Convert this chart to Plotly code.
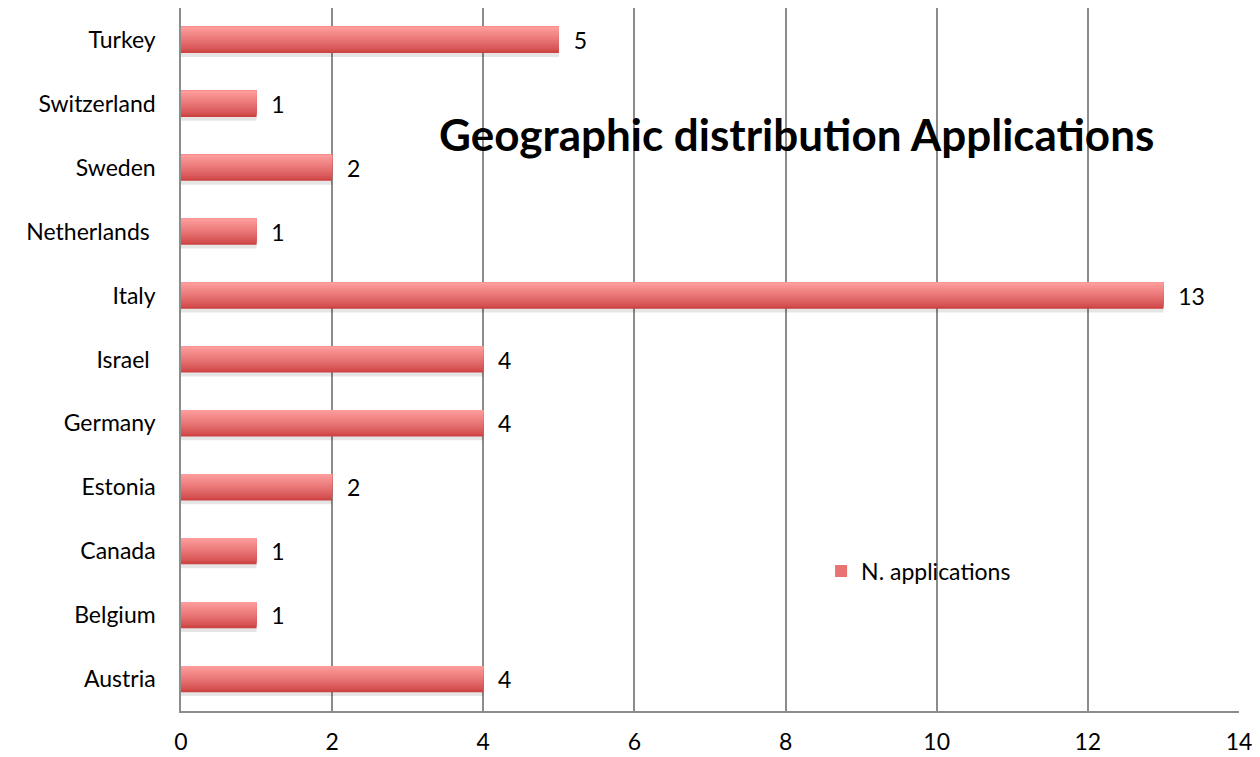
import plotly.graph_objects as go

countries = ["Austria", "Belgium", "Canada", "Estonia", "Germany", "Israel ",
             "Italy", "Netherlands ", "Sweden", "Switzerland", "Turkey"]
applications = [4, 1, 1, 2, 4, 4, 13, 1, 2, 1, 5]
x_ticks = [0, 2, 4, 6, 8, 10, 12, 14]

FONT = "Lato"
BAR_W = 0.41
N_STRIPS = 16
DARK = (205, 66, 66)
LIGHT = (253, 155, 155)


def mix(t):
    return "rgb(%d,%d,%d)" % tuple(round(d + (l - d) * t) for d, l in zip(DARK, LIGHT))


fig = go.Figure()
# soft shadow under the bars
fig.add_trace(go.Bar(
    y=countries, x=applications, orientation="h",
    offset=-BAR_W / 2 - 0.06, width=BAR_W,
    marker=dict(color="rgba(0,0,0,0.10)", line=dict(width=0)),
    showlegend=False, hoverinfo="skip",
))
# vertical gradient: each strip covers from its start to the bar top
for k in range(N_STRIPS):
    t = (k / (N_STRIPS - 1)) ** 0.8
    start = -BAR_W / 2 + k * BAR_W / N_STRIPS
    fig.add_trace(go.Bar(
        y=countries, x=applications, orientation="h",
        offset=start, width=BAR_W / 2 - start,
        marker=dict(color=mix(t), line=dict(width=0)),
        showlegend=False, hoverinfo="skip",
    ))
# value labels
fig.add_trace(go.Bar(
    y=countries, x=applications, orientation="h",
    offset=-BAR_W / 2, width=BAR_W,
    marker=dict(color="rgba(0,0,0,0)", line=dict(width=0)),
    text=["  " + str(v) for v in applications],
    textposition="outside", cliponaxis=False, constraintext="none",
    textfont=dict(size=23, color="#000000", family=FONT),
    showlegend=False, hoverinfo="skip",
))
# legend entry
fig.add_trace(go.Bar(
    y=[None], x=[None], orientation="h", name="N. applications",
    marker=dict(color=mix(0.55), line=dict(width=0)),
))

fig.update_layout(
    width=1260, height=757,
    margin=dict(l=173, r=29, t=0, b=54),
    paper_bgcolor="white", plot_bgcolor="white",
    barmode="overlay",
    font=dict(family=FONT, size=23, color="#000000"),
    showlegend=True,
    legend=dict(x=0.605, y=0.199, xanchor="left", yanchor="middle",
                font=dict(size=23), bgcolor="rgba(0,0,0,0)",
                itemwidth=30),
    annotations=[dict(
        text="<b>Geographic distribution Applications</b>",
        x=0.582, y=0.821, xref="paper", yref="paper",
        xanchor="center", yanchor="middle", showarrow=False,
        font=dict(size=44, family=FONT, color="#000000"),
    )],
)
fig.update_xaxes(
    range=[0, 14], tickvals=x_ticks, ticktext=[str(t) for t in x_ticks],
    showgrid=True, gridcolor="#8c8c8c", gridwidth=1.5,
    showline=True, linecolor="#8c8c8c", linewidth=1.5,
    zeroline=False, ticks="", ticklabelstandoff=10,
    tickfont=dict(size=23),
)
fig.update_yaxes(
    showgrid=False, showline=True, linecolor="#8c8c8c", linewidth=1.5,
    ticks="", ticklabelstandoff=19, tickfont=dict(size=23),
)
fig.write_html("out.html")
